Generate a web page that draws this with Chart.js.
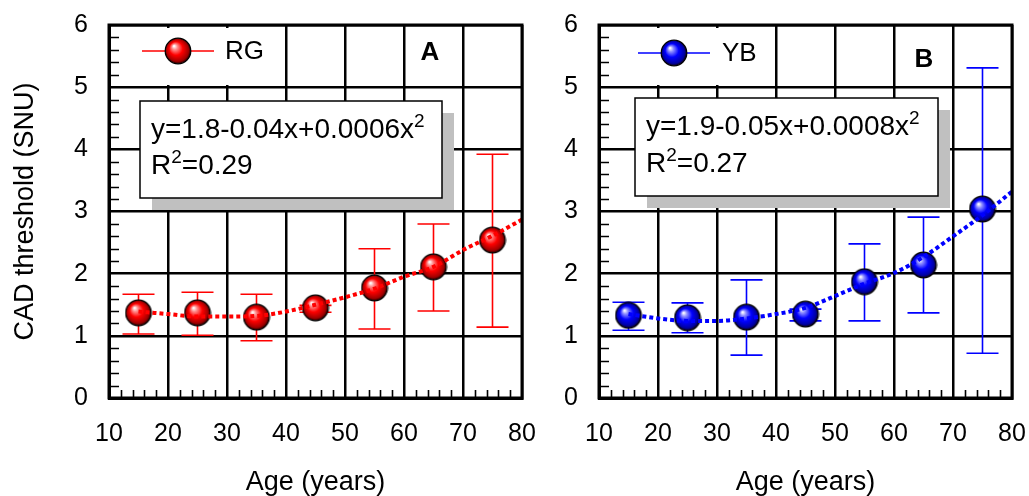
<!DOCTYPE html>
<html lang="en">
<head>
<meta charset="UTF-8">
<title>CAD threshold vs age</title>
<script src="https://cdn.jsdelivr.net/npm/chart.js@4.4.1/dist/chart.umd.min.js"></script>
<style>
  body { margin: 0; background: #fff; }
  #wrap { position: relative; width: 1029px; height: 496px; }
  canvas { position: absolute; top: 0; }
  #left { left: 0; }
  #right { left: 540px; }
</style>
</head>
<body>
<div id="wrap">
  <canvas id="left" width="540" height="496"></canvas>
  <canvas id="right" width="489" height="496"></canvas>
</div>
<script>
// age group centres
const ages = [15, 25, 35, 45, 55, 65, 75];

// RG: means and error bar ends
const rgMean  = [1.37, 1.37, 1.30, 1.45, 1.77, 2.11, 2.54];
const rgUpper = [1.67, 1.70, 1.67, 1.49, 2.40, 2.80, 3.92];
const rgLower = [1.03, 1.01, 0.92, 1.38, 1.11, 1.40, 1.14];

// YB: means and error bar ends
const ybMean  = [1.33, 1.29, 1.30, 1.35, 1.87, 2.14, 3.04];
const ybUpper = [1.54, 1.53, 1.90, 1.43, 2.48, 2.91, 5.31];
const ybLower = [1.09, 1.05, 0.69, 1.24, 1.24, 1.37, 0.72];

// fitted curves, read every 5 years
const fitAges = [15, 20, 25, 30, 35, 40, 45, 50, 55, 60, 65, 70, 75, 80];
const rgFit = [1.39, 1.35, 1.31, 1.31, 1.32, 1.39, 1.50, 1.62, 1.76, 1.95, 2.11, 2.38, 2.61, 2.87];
const ybFit = [1.35, 1.28, 1.24, 1.24, 1.28, 1.35, 1.45, 1.64, 1.84, 2.01, 2.27, 2.60, 2.94, 3.32];

// tick values
const xTicks = [10, 20, 30, 40, 50, 60, 70, 80];
const yTicks = [0, 1, 2, 3, 4, 5, 6];

const FONT = '"Liberation Sans", Arial, Helvetica, sans-serif';

function makeSphere(hi, mid, dark) {
  const c = document.createElement('canvas');
  c.width = 28; c.height = 28;
  const g = c.getContext('2d');
  const grad = g.createRadialGradient(10, 9, 0.5, 14, 14, 13);
  grad.addColorStop(0, '#ffffff');
  grad.addColorStop(0.18, hi);
  grad.addColorStop(0.5, mid);
  grad.addColorStop(0.85, dark);
  grad.addColorStop(1, '#100000');
  g.beginPath();
  g.arc(14, 14, 12.8, 0, Math.PI * 2);
  g.fillStyle = grad;
  g.fill();
  g.lineWidth = 1.2;
  g.strokeStyle = '#000';
  g.stroke();
  return c;
}

const redBall = makeSphere('#ff9090', '#ff0000', '#a00000');
const blueBall = makeSphere('#9090ff', '#0000ff', '#0000a0');

// text with superscripts: odd entries are raised
function drawRich(ctx, parts, x, y) {
  let cx = x;
  parts.forEach((t, i) => {
    const sup = i % 2 === 1;
    ctx.font = (sup ? '19px ' : '28px ') + FONT;
    ctx.fillText(t, cx, sup ? y - 11 : y);
    cx += ctx.measureText(t).width;
  });
}

const panelPlugin = {
  id: 'panel',
  beforeDatasetsDraw(chart, args, o) {
    const {ctx, chartArea: a, scales: {x, y}} = chart;
    ctx.save();
    // blank area behind the legend
    ctx.fillStyle = '#fff';
    ctx.fillRect(a.left + 2, a.top + 3, o.legendW, 57);

    // equation box with drop shadow
    const [bx, by, bw, bh] = o.eqBox;
    ctx.fillStyle = '#c0c0c0';
    ctx.fillRect(a.left + bx + 12, a.top + by + 12, bw, bh);
    ctx.fillStyle = '#fff';
    ctx.fillRect(a.left + bx, a.top + by, bw, bh);
    ctx.strokeStyle = '#000';
    ctx.lineWidth = 1.5;
    ctx.strokeRect(a.left + bx, a.top + by, bw, bh);
    ctx.fillStyle = '#000';
    ctx.textBaseline = 'alphabetic';
    ctx.textAlign = 'left';
    drawRich(ctx, o.eq[0], a.left + o.eqText[0], a.top + o.eqText[1]);
    drawRich(ctx, o.eq[1], a.left + o.eqText[0], a.top + o.eqText[2]);

    // error bars
    ctx.strokeStyle = o.color;
    ctx.lineWidth = 1.6;
    ages.forEach((age, i) => {
      const px = x.getPixelForValue(age);
      const t = y.getPixelForValue(o.upper[i]);
      const b = y.getPixelForValue(o.lower[i]);
      ctx.beginPath();
      ctx.moveTo(px, t); ctx.lineTo(px, b);
      ctx.moveTo(px - 16, t); ctx.lineTo(px + 16, t);
      ctx.moveTo(px - 16, b); ctx.lineTo(px + 16, b);
      ctx.stroke();
    });
    ctx.restore();
  },
  afterDatasetsDraw(chart, args, o) {
    const {ctx, chartArea: a, scales: {x, y}} = chart;
    ctx.save();
    // legend
    const ly = a.top + o.legend[3];
    ctx.strokeStyle = o.color;
    ctx.lineWidth = 1.6;
    ctx.beginPath();
    ctx.moveTo(a.left + o.legend[0], ly);
    ctx.lineTo(a.left + o.legend[1], ly);
    ctx.stroke();
    ctx.drawImage(o.ball, a.left + o.legend[2] - 14, ly - 14);
    ctx.fillStyle = '#000';
    ctx.font = '26px ' + FONT;
    ctx.textBaseline = 'middle';
    ctx.textAlign = 'left';
    ctx.fillText(o.label, a.left + o.legend[4], ly + 1);

    // panel letter
    ctx.font = 'bold 26px ' + FONT;
    ctx.textAlign = 'center';
    ctx.fillText(o.letter, a.left + o.letterPos[0], a.top + o.letterPos[1]);

    // minor ticks
    ctx.strokeStyle = '#000';
    ctx.lineWidth = 1.6;
    ctx.beginPath();
    for (let v = 0.2; v < 6; v += 0.2) {
      if (Math.abs(v - Math.round(v)) < 0.01) continue;
      const py = Math.round(y.getPixelForValue(v)) + 0.5;
      ctx.moveTo(a.left, py); ctx.lineTo(a.left + 10, py);
    }
    for (let v = 12; v < 80; v += 2) {
      if (v % 10 === 0) continue;
      const px = Math.round(x.getPixelForValue(v)) + 0.5;
      ctx.moveTo(px, a.bottom); ctx.lineTo(px, a.bottom - 8);
    }
    ctx.stroke();

    // frame
    ctx.lineWidth = 3;
    ctx.strokeRect(a.left, a.top, a.right - a.left, a.bottom - a.top);
    ctx.restore();
  }
};

function makeChart(id, o) {
  return new Chart(document.getElementById(id), {
    type: 'line',
    data: {
      datasets: [
        {
          data: fitAges.map((a, i) => ({x: a, y: o.fit[i]})),
          borderColor: o.color,
          borderWidth: 4,
          borderDash: [4, 3],
          pointRadius: 0,
          cubicInterpolationMode: 'monotone',
          fill: false
        },
        {
          data: ages.map((a, i) => ({x: a, y: o.mean[i]})),
          showLine: false,
          pointStyle: o.ball,
          pointRadius: 13
        }
      ]
    },
    options: {
      responsive: false,
      animation: false,
      layout: {padding: {left: 0, right: o.padRight, top: 25, bottom: 0}},
      plugins: {
        legend: {display: false},
        tooltip: {enabled: false},
        panel: o.panel
      },
      scales: {
        x: {
          type: 'linear',
          min: 10, max: 80,
          afterBuildTicks: s => { s.ticks = xTicks.map(v => ({value: v})); },
          afterFit: s => { s.height = 98; s.paddingLeft = 0; s.paddingRight = 0; },
          grid: {color: '#000', lineWidth: 2.5, drawTicks: false},
          border: {color: '#000', width: 3},
          ticks: {color: '#000', font: {family: FONT, size: 25}, padding: 21, maxRotation: 0},
          title: {display: true, text: 'Age (years)', color: '#000',
                  font: {family: FONT, size: 27, lineHeight: 1}, padding: {top: 0, bottom: 0}}
        },
        y: {
          min: 0, max: 6,
          afterBuildTicks: s => { s.ticks = yTicks.map(v => ({value: v})); },
          afterFit: s => { s.width = o.axisW; s.paddingTop = 0; s.paddingBottom = 0; },
          grid: {color: '#000', lineWidth: 2.5, drawTicks: false},
          border: {color: '#000', width: 3},
          ticks: {color: '#000', font: {family: FONT, size: 25}, padding: 21},
          title: {display: o.yTitle, text: 'CAD threshold (SNU)', color: '#000',
                  font: {family: FONT, size: 27, lineHeight: 1.2}, padding: {top: 9, bottom: 0}}
        }
      }
    },
    plugins: [panelPlugin]
  });
}

makeChart('left', {
  fit: rgFit, mean: rgMean, color: '#ff0000', ball: redBall,
  padRight: 18, axisW: 109, yTitle: true,
  panel: {
    color: '#ff0000', upper: rgUpper, lower: rgLower, ball: redBall,
    label: 'RG', letter: 'A', letterPos: [321, 28],
    legend: [33, 105, 69, 26, 116], legendW: 171,
    eqBox: [31, 76, 302, 97], eqText: [42, 113, 149],
    eq: [['y=1.8-0.04x+0.0006x', '2'], ['R', '2', '=0.29']]
  }
});

makeChart('right', {
  fit: ybFit, mean: ybMean, color: '#0000ff', ball: blueBall,
  padRight: 17, axisW: 59, yTitle: false,
  panel: {
    color: '#0000ff', upper: ybUpper, lower: ybLower, ball: blueBall,
    label: 'YB', letter: 'B', letterPos: [325, 35],
    legend: [39, 111, 75, 28, 123], legendW: 171,
    eqBox: [36, 73, 303, 98], eqText: [47, 110, 147],
    eq: [['y=1.9-0.05x+0.0008x', '2'], ['R', '2', '=0.27']]
  }
});
</script>
</body>
</html>
